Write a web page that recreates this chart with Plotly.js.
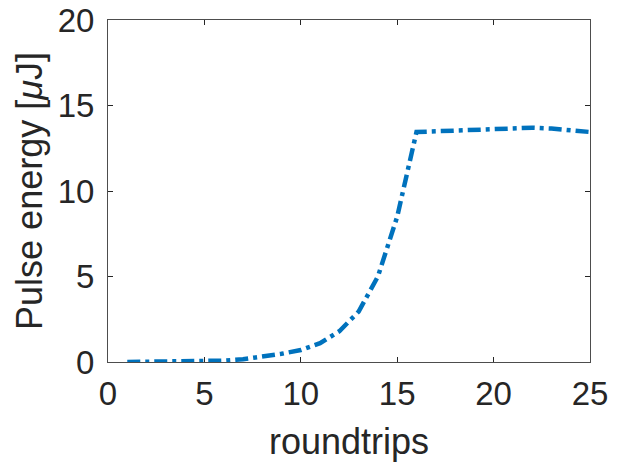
<!DOCTYPE html>
<html>
<head>
<meta charset="utf-8">
<script src="https://cdn.plot.ly/plotly-3.0.1.min.js"></script>
<style>html,body{margin:0;padding:0;background:#fff}#plot{width:619px;height:462px}</style>
</head>
<body>
<div id="plot"></div>
<script>
const roundtrips = [1,2,3,4,5,6,7,8,9,10,11,12,13,14,15,16,17,18,19,20,21,22,23,24,25];
const pulseEnergy = [0,0.01,0.02,0.03,0.05,0.08,0.16,0.3,0.48,0.7,1.1,1.8,2.95,5.0,8.5,13.45,13.5,13.55,13.6,13.65,13.7,13.7,13.65,13.58,13.45];
const xTicks = [0,5,10,15,20,25];
const yTicks = [0,5,10,15,20];

const font = "Liberation Sans, Arial, Helvetica, sans-serif";
const axisCommon = {
  showgrid: false, zeroline: false, showline: true, mirror: 'ticks',
  linecolor: '#4d4d4d', linewidth: 1, ticks: 'inside', ticklen: 5, tickwidth: 1,
  tickcolor: '#262626', tickfont: {family: font, size: 33, color: '#262626'}
};
Plotly.newPlot('plot', [{
  x: roundtrips, y: pulseEnergy, type: 'scatter', mode: 'lines',
  line: {color: '#0072BD', width: 4.5, dash: '13px,5px,4px,5px'}
}], {
  width: 619, height: 462,
  margin: {l: 108, r: 29, t: 19.5, b: 100, pad: 0},
  paper_bgcolor: '#fff', plot_bgcolor: '#fff', showlegend: false,
  xaxis: Object.assign({}, axisCommon, {
    range: [0, 25], tickvals: xTicks, ticktext: xTicks.map(String), ticklabelstandoff: 2,
    title: {text: 'roundtrips', font: {family: font, size: 36, color: '#262626'}, standoff: 18}
  }),
  yaxis: Object.assign({}, axisCommon, {
    range: [0, 20], tickvals: yTicks, ticktext: yTicks.map(String), ticklabelstandoff: 6,
    title: {text: 'Pulse energy [<i>μ</i>J]', font: {family: font, size: 36, color: '#262626'}, standoff: 4}
  })
}, {staticPlot: true, displayModeBar: false});
</script>
</body>
</html>
